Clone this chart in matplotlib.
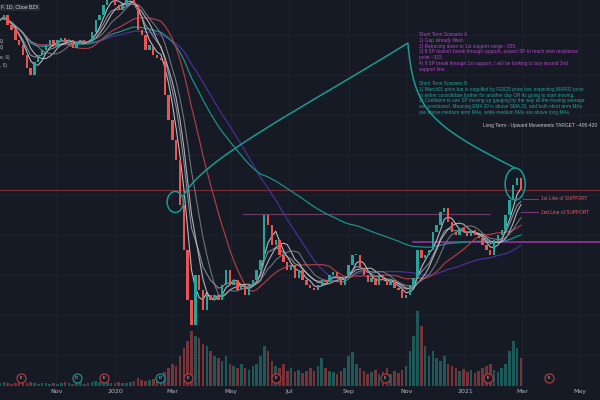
import numpy as np
import pandas as pd
import matplotlib
matplotlib.use("Agg")
import matplotlib.pyplot as plt
import matplotlib.dates as mdates
import matplotlib.transforms as mtransforms
from matplotlib.patches import Ellipse, PathPatch
from matplotlib.path import Path

# ---- data (one bar every 4 calendar days) ----
start_date = "2019-09-03"
closes = [380, 385, 375, 370, 360, 355, 345, 332, 325, 338,
          345, 350, 355, 360, 355, 360, 362, 358, 360, 352,
          358, 360, 357, 358, 368, 380, 385, 395, 405, 405,
          395, 390, 395, 400, 403, 395, 370, 365, 350, 355,
          345, 342, 340, 305, 280, 260, 240, 195, 150, 100,
          75, 125, 110, 90, 105, 100, 105, 100, 115, 130,
          115, 120, 110, 115, 105, 115, 120, 130, 140, 185,
          175, 155, 160, 145, 138, 130, 135, 122, 130, 120,
          115, 112, 110, 115, 120, 118, 125, 128, 122, 115,
          122, 135, 145, 145, 132, 125, 118, 122, 115, 125,
          120, 115, 120, 112, 110, 102, 105, 115, 122, 150,
          142, 145, 150, 168, 175, 188, 192, 178, 168, 165,
          172, 168, 164, 170, 165, 162, 155, 150, 145, 160,
          165, 170, 185, 200, 215, 222, 210]
volumes = [3, 4, 3, 2, 3, 4, 5, 3, 4, 3, 2, 3, 3, 2, 3, 2, 3, 4, 3, 2,
           3, 3, 2, 3, 4, 5, 4, 3, 4, 3, 3, 4, 3, 3, 4, 5,
           8, 6, 5, 6, 7, 9, 12, 14, 18, 22, 20,
           30, 38, 45, 55, 50, 48, 42, 40, 35, 30, 28, 25,
           30, 22, 20, 18, 22, 18, 16, 20, 22, 30, 40, 35,
           25, 20, 18, 22, 15, 18, 14, 16, 13, 15, 18, 15,
           20, 28, 18, 15, 14, 12, 15, 18, 30, 34, 22, 18,
           15, 12, 14, 16, 12, 14, 18, 12, 15, 13, 16, 20,
           35, 50, 75, 60, 40, 30, 35, 28, 25, 30, 22, 20,
           18, 15, 17, 14, 16, 13, 15, 18, 20, 22, 16, 14,
           18, 22, 35, 45, 38, 28]

month_ticks = ["2019-11-01", "2020-01-01", "2020-03-01", "2020-05-01", "2020-07-01",
               "2020-09-01", "2020-11-01", "2021-01-01", "2021-03-01", "2021-05-01"]
month_labels = ["Nov", "2020", "Mar", "May", "Jul", "Sep", "Nov", "2021", "Mar", "May"]

# earnings / dividend flags on the time scale
event_dates = ["2019-09-25", "2019-11-22", "2019-12-21", "2020-02-17", "2020-03-17",
               "2020-06-17", "2020-10-09", "2021-01-25", "2021-03-29"]
event_kinds = ["E", "D", "E", "D", "E", "E", "E", "E", "E"]

scenario_a = ("Short Term Scenario A\n"
              "1) Gap already filled.\n"
              "2) Retracing down to 1st support range ~255.\n"
              "3) If SP doesn't break through support, expect SP to reach next resistance\n"
              "point ~315\n"
              "4) If SP break through 1st support, I will be looking to buy around 2nd\n"
              "support line.")
scenario_b = ("Short Term Scenario B\n"
              "1) March01 price bar is engulfed by FEB25 price bar, expecting MAR02 price\n"
              "to either consolidate further for another day OR its going to start moving.\n"
              "2) Confident to see SP moving up gauging by the way all the moving average\n"
              "are positioned. Meaning EMA 20 is above SMA 20, and both short term MAs\n"
              "are above medium term MAs, while medium MAs are above long MAs.")
long_term = "Long Term - Upward Movements TARGET ~405-420"

BG = "#161a25"
UP = "#26a69a"
DOWN = "#ef5350"

dates = pd.date_range(start_date, periods=len(closes), freq="4D")
x = mdates.date2num(dates)
c = np.array(closes, dtype=float)
o = np.r_[c[0], c[:-1]]
up = c >= o

s = pd.Series(c)
short_mas = [s.rolling(4, min_periods=1).mean(), s.ewm(span=7).mean(),
             s.rolling(7, min_periods=1).mean(), s.rolling(10, min_periods=1).mean()]
short_cols = ["#d1d4dc", "#9a9ca4", "#c8c8c8", "#7f828a"]
sma50 = s.rolling(18, min_periods=1).mean()
ema200 = s.ewm(span=71).mean()
sma100 = s.rolling(40, min_periods=1).mean()

fig = plt.figure(figsize=(6, 4), dpi=100, facecolor=BG)
vax = fig.add_axes([0, 14 / 400, 1, 386 / 400])
ax = fig.add_axes([0, 14 / 400, 1, 386 / 400], sharex=vax)
vax.set_facecolor(BG)
ax.patch.set_visible(False)

x0 = mdates.date2num(pd.Timestamp(start_date))
ax.set_xlim(x0, x0 + 626.6)
ax.set_ylim(14, 400)
vax.set_ylim(0, 386)

# grid
for t in month_ticks:
    vax.axvline(mdates.date2num(pd.Timestamp(t)), color="#1f2330", lw=0.6, zorder=0)
for yy in range(35, 400, 40):
    vax.axhline(400 - yy - 14, color="#1f2330", lw=0.6, zorder=0)

# volume
vcol = np.where(up, UP, DOWN)
vax.bar(x, volumes, width=2.7, color=vcol, alpha=0.45, zorder=1)

# moving averages
ax.plot(x, sma100, color="#4b2f93", lw=0.9, zorder=2)
ax.plot(x, ema200, color="#1d8f89", lw=0.9, zorder=2)
ax.plot(x, sma50, color="#a83c46", lw=0.9, zorder=2)
for ma, col in zip(short_mas, short_cols):
    ax.plot(x, ma, color=col, lw=0.8, alpha=0.85, zorder=3)

# candles
body = np.maximum(np.abs(c - o), 1.0)
ax.bar(x, body, bottom=np.minimum(o, c), width=2.5,
       color=np.where(up, UP, DOWN), zorder=4)

# drawings
def d(t):
    return mdates.date2num(pd.Timestamp(t))

ax.axhline(210, color="#7c2b35", lw=0.8, zorder=1)
ax.plot([d("2020-05-14"), d("2021-01-27")], [186, 186], color="#6a3f63", lw=0.8, zorder=1)
ax.plot([d("2020-11-07"), x0 + 640], [158, 158], color="#a035a8", lw=1.1, zorder=1)
ax.plot([d("2021-03-02"), d("2021-03-18")], [201, 201], color="#7b3a7e", lw=0.8)
ax.plot([d("2021-02-28"), d("2021-03-18")], [188, 188], color="#7b3a7e", lw=0.8)
ax.text(d("2021-03-21"), 201, "1st Line of SUPPORT", color="#e0606a", fontsize=3.4,
        va="center", family="Liberation Sans")
ax.text(d("2021-03-21"), 188, "2nd Line of SUPPORT", color="#e0606a", fontsize=3.4,
        va="center", family="Liberation Sans")

ax.add_patch(Ellipse((d("2020-03-04"), 198), 17, 21, fill=False, ec="#1b9a94", lw=1.1, zorder=5))
ax.add_patch(Ellipse((d("2021-02-22"), 216), 21, 32, fill=False, ec="#1b9a94", lw=1.1, zorder=5))
verts = [(d("2020-03-12"), 203), (d("2020-03-30"), 240), (d("2020-07-12"), 290), (d("2020-11-02"), 357),
         (d("2020-11-08"), 290), (d("2020-11-25"), 275), (d("2021-02-22"), 232)]
codes = [Path.MOVETO] + [Path.CURVE4] * 6
ax.add_patch(PathPatch(Path(verts, codes), fill=False, ec="#1b9a94", lw=1.1, zorder=5))

# event flags
trans = mtransforms.blended_transform_factory(ax.transData, ax.transAxes)
for t, k in zip(event_dates, event_kinds):
    ec = "#b2373a" if k == "E" else "#1b8f8a"
    ax.plot(d(t), 0.021, "o", ms=6.5, mfc=BG, mec=ec, mew=0.9, transform=trans, zorder=6)
    ax.text(d(t), 0.021, k, color="#d1d4dc", fontsize=3, ha="center", va="center",
            transform=trans, zorder=7)

# axes styling
ax.set_xticks([d(t) for t in month_ticks])
ax.set_xticklabels(month_labels)
ax.tick_params(axis="x", length=0, pad=2, labelsize=4.5, labelcolor="#b2b5be")
vax.tick_params(axis="x", length=0, labelbottom=False)
for a in (ax, vax):
    a.set_yticks([])
    for sp in a.spines.values():
        sp.set_visible(False)

# notes
fig.text(419 / 600, 1 - 32 / 400, scenario_a, color="#b845c8", fontsize=3.4, va="top",
         linespacing=1.2, family="Liberation Sans")
fig.text(419 / 600, 1 - 81 / 400, scenario_b, color="#22a39a", fontsize=3.4, va="top",
         linespacing=1.2, family="Liberation Sans")
fig.text(483 / 600, 1 - 126 / 400, long_term, color="#c8c8c8", fontsize=3.5, va="center",
         family="Liberation Sans")
fig.text(1 / 600, 1 - 7 / 400, "F, 1D, Cboe BZX", color="#d1d4dc", fontsize=3.6, va="center",
         family="Liberation Sans",
         bbox=dict(boxstyle="square,pad=0.2", fc="#2a2e39", ec="none", alpha=0.8))
for yy, lab in zip([41, 48, 57, 66], ["0)", "0)", "e, 0)", ", 0)"]):
    fig.text(0, 1 - yy / 400, lab, color="#b2b5be", fontsize=3.4, va="center",
             family="Liberation Sans")

fig.savefig("out.png", dpi=100, facecolor=BG)
